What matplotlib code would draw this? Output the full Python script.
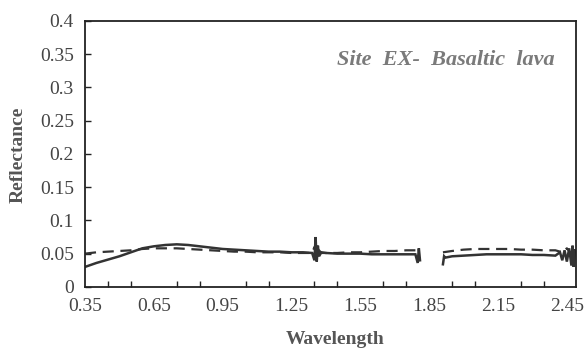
import matplotlib
matplotlib.use("Agg")
import matplotlib.pyplot as plt
import numpy as np

# Solid series (segment 1: 0.35-1.81, segment 2: 1.91-2.49)
wl_solid_a = [0.35, 0.40, 0.45, 0.50, 0.55, 0.60, 0.65, 0.70, 0.75, 0.80, 0.85, 0.90, 0.95,
              1.00, 1.05, 1.10, 1.15, 1.20, 1.25, 1.30, 1.34, 1.35, 1.355, 1.36, 1.365, 1.37,
              1.38, 1.40, 1.45, 1.50, 1.55, 1.60, 1.65, 1.70, 1.75, 1.79, 1.80, 1.805, 1.81]
refl_solid_a = [0.030, 0.036, 0.041, 0.046, 0.052, 0.058, 0.061, 0.063, 0.064, 0.063, 0.061, 0.059, 0.057,
                0.056, 0.055, 0.054, 0.053, 0.053, 0.052, 0.052, 0.051, 0.040, 0.075, 0.038, 0.062, 0.046,
                0.052, 0.051, 0.050, 0.050, 0.050, 0.049, 0.049, 0.049, 0.049, 0.049, 0.036, 0.058, 0.040]
wl_solid_b = [1.91, 1.915, 1.92, 1.95, 2.00, 2.05, 2.10, 2.15, 2.20, 2.25, 2.30, 2.35, 2.40,
              2.42, 2.43, 2.44, 2.45, 2.46, 2.47, 2.475, 2.48, 2.485]
refl_solid_b = [0.034, 0.046, 0.044, 0.046, 0.047, 0.048, 0.049, 0.049, 0.049, 0.049, 0.048, 0.048, 0.047,
                0.052, 0.040, 0.055, 0.038, 0.058, 0.032, 0.062, 0.030, 0.055]

# Dashed series
wl_dash_a = [0.35, 0.40, 0.45, 0.50, 0.55, 0.60, 0.65, 0.70, 0.75, 0.80, 0.85, 0.90, 0.95,
             1.00, 1.05, 1.10, 1.15, 1.20, 1.25, 1.30, 1.34, 1.35, 1.36, 1.37, 1.38, 1.40, 1.45,
             1.50, 1.55, 1.60, 1.65, 1.70, 1.75, 1.80, 1.81]
refl_dash_a = [0.050, 0.052, 0.053, 0.054, 0.055, 0.057, 0.058, 0.058, 0.058, 0.057, 0.056, 0.055, 0.054,
               0.053, 0.053, 0.052, 0.052, 0.052, 0.051, 0.051, 0.051, 0.060, 0.045, 0.055, 0.051, 0.051, 0.051,
               0.052, 0.052, 0.053, 0.054, 0.054, 0.055, 0.055, 0.050]
wl_dash_b = [1.91, 1.95, 2.00, 2.05, 2.10, 2.15, 2.20, 2.25, 2.30, 2.35, 2.40, 2.43, 2.45, 2.47, 2.485]
refl_dash_b = [0.052, 0.054, 0.056, 0.057, 0.057, 0.057, 0.057, 0.056, 0.056, 0.055, 0.055, 0.052, 0.058,
               0.050, 0.060]

x_major = [0.35, 0.65, 0.95, 1.25, 1.55, 1.85, 2.15, 2.45]
x_labels = ["0.35", "0.65", "0.95", "1.25", "1.55", "1.85", "2.15", "2.45"]
y_ticks = [0, 0.05, 0.1, 0.15, 0.2, 0.25, 0.3, 0.35, 0.4]
y_labels = ["0", "0.05", "0.1", "0.15", "0.2", "0.25", "0.3", "0.35", "0.4"]

plt.rcParams['font.family'] = ['Liberation Serif', 'DejaVu Serif']

fig = plt.figure(figsize=(5.86, 3.49), dpi=100)
ax = fig.add_axes([0.145, 0.178, 0.838, 0.762])

lc = '#333333'
for xs, ys in [(wl_solid_a, refl_solid_a), (wl_solid_b, refl_solid_b)]:
    ax.plot(xs, ys, color=lc, lw=1.8, solid_joinstyle='miter')
for xs, ys in [(wl_dash_a, refl_dash_a), (wl_dash_b, refl_dash_b)]:
    ax.plot(xs, ys, color=lc, lw=1.6, ls=(0, (5, 3)))

ax.set_xlim(0.35, 2.49)
ax.set_ylim(0, 0.4)
ax.set_xticks(x_major)
ax.set_xticklabels(x_labels)
ax.set_xticks(np.arange(0.35, 2.46, 0.1), minor=True)
ax.set_yticks(y_ticks)
ax.set_yticklabels(y_labels)

tc = '#444444'
ax.tick_params(axis='x', which='major', direction='in', length=0, labelsize=14, labelcolor=tc, pad=8)
ax.tick_params(axis='x', which='minor', direction='in', length=4, width=1, color='#222222')
ax.tick_params(axis='y', direction='in', length=4, width=1, labelsize=14, labelcolor=tc, pad=8, color='#222222')
for s in ax.spines.values():
    s.set_linewidth(1.3)
    s.set_color('#222222')

fig.text(335 / 586, 1 - 339 / 349, 'Wavelength', ha='center', va='center',
         fontsize=14, fontweight='bold', color='#555555')
fig.text(18 / 586, 1 - 155 / 349, 'Reflectance', ha='center', va='center', rotation=90,
         fontsize=14, fontweight='bold', color='#555555')

ax.text(0.957, 0.855, 'Site  EX-  Basaltic  lava', transform=ax.transAxes, ha='right', va='center',
        fontsize=16, fontweight='bold', fontstyle='italic', color='#7a7a7a')

fig.savefig('out.png', dpi=100)
